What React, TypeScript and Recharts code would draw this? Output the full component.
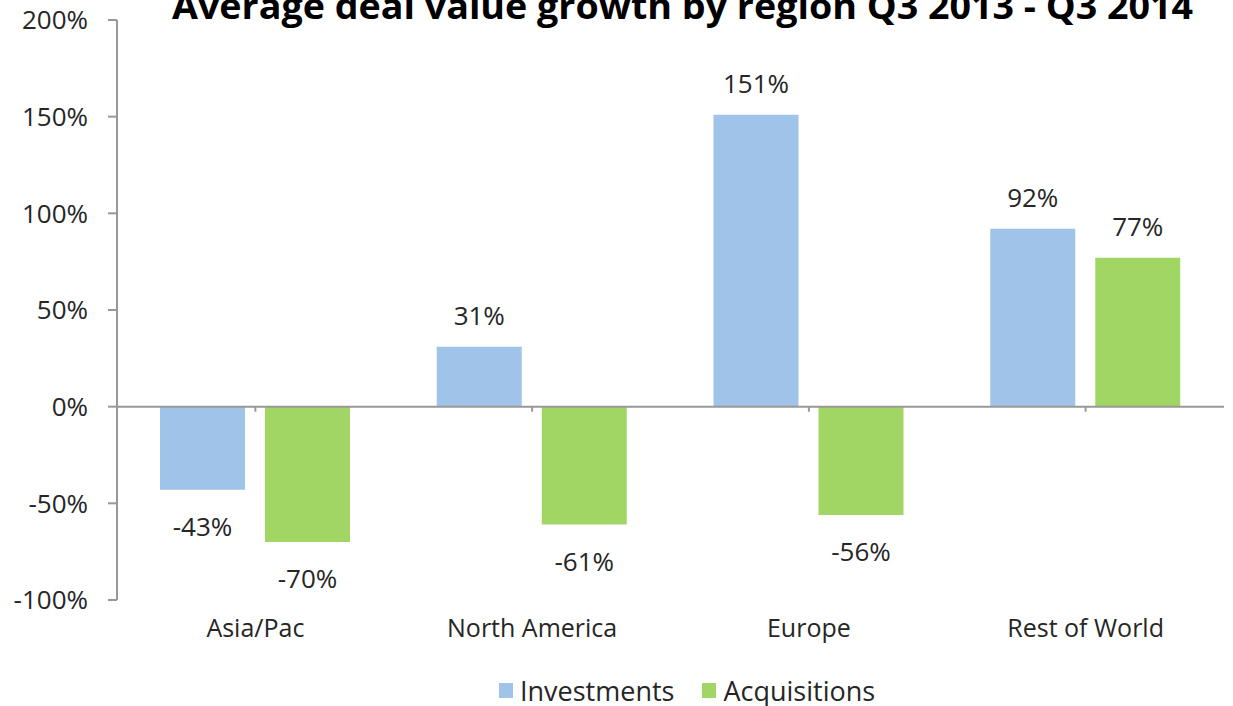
import React from "react";
import {
  BarChart,
  Bar,
  XAxis,
  YAxis,
  ReferenceLine,
  LabelList,
} from "recharts";

const regions = ["Asia/Pac", "North America", "Europe", "Rest of World"];
const investments = [-43, 31, 151, 92];
const acquisitions = [-70, -61, -56, 77];
const yTicks = [-100, -50, 0, 50, 100, 150, 200];

const seriesNames = ["Investments", "Acquisitions"];
const seriesColors = ["#9fc3e9", "#a2d664"];

const TITLE = "Average deal value growth by region Q3 2013 - Q3 2014";
const FONT = "'Open Sans', 'Noto Sans', sans-serif";
const TEXT = "#262626";
const AXIS = "#989898";

const data = regions.map((r, i) => ({
  region: r,
  inv: investments[i],
  acq: acquisitions[i],
}));

// data labels sit outside the bar end, above for gains, below for losses
function ValueLabel(props: any) {
  const { x, y, width, height, value } = props;
  const top = Math.min(y, y + height);
  const bottom = Math.max(y, y + height);
  const cy = value >= 0 ? top - 31 : bottom + 37;
  return (
    <text
      x={x + width / 2}
      y={cy}
      dy="0.35em"
      textAnchor="middle"
      fill={TEXT}
      fontSize={26}
      fontFamily={FONT}
    >
      {value}%
    </text>
  );
}

function CategoryTick(props: any) {
  const { x, y, payload } = props;
  return (
    <text
      x={x}
      y={y + 28}
      dy="0.35em"
      textAnchor="middle"
      fill={TEXT}
      fontSize={25}
      fontFamily={FONT}
    >
      {payload.value}
    </text>
  );
}

export default function App() {
  return (
    <div
      style={{
        position: "absolute",
        left: 0,
        top: 0,
        width: 1233,
        height: 706,
        background: "#fff",
        overflow: "hidden",
        fontFamily: FONT,
      }}
    >
      <BarChart
        width={1233}
        height={706}
        data={data}
        margin={{ top: 20, right: 9, bottom: 76, left: 0 }}
        barCategoryGap={43}
        barGap={20}
      >
        <YAxis
          width={117}
          domain={[-100, 200]}
          ticks={yTicks}
          interval={0}
          tickFormatter={(v) => `${v}%`}
          tick={{ fill: TEXT, fontSize: 26, fontFamily: FONT }}
          axisLine={{ stroke: AXIS, strokeWidth: 2 }}
          tickLine={{ stroke: AXIS, strokeWidth: 2 }}
          tickSize={9}
          tickMargin={20}
        />
        <XAxis
          dataKey="region"
          height={30}
          axisLine={false}
          tickLine={false}
          tickSize={0}
          tickMargin={0}
          interval={0}
          tick={<CategoryTick />}
        />
        <Bar dataKey="inv" fill={seriesColors[0]} isAnimationActive={false}>
          <LabelList dataKey="inv" content={<ValueLabel />} />
        </Bar>
        <Bar dataKey="acq" fill={seriesColors[1]} isAnimationActive={false}>
          <LabelList dataKey="acq" content={<ValueLabel />} />
        </Bar>
        <ReferenceLine y={0} stroke={AXIS} strokeWidth={2} />
        {regions.map((r) => (
          <ReferenceLine
            key={r}
            segment={[
              { x: r, y: 0 },
              { x: r, y: -2.6 },
            ]}
            stroke={AXIS}
            strokeWidth={2}
          />
        ))}
      </BarChart>

      {/* title is clipped by the top edge in the source image */}
      <svg
        width={1233}
        height={40}
        style={{ position: "absolute", left: 0, top: 0 }}
      >
        <text
          x={172}
          y={19}
          fontSize={35}
          fontWeight={700}
          fontFamily={FONT}
          fill="#000"
          textLength={1021}
          lengthAdjust="spacingAndGlyphs"
        >
          {TITLE}
        </text>
      </svg>

      <div
        style={{
          position: "absolute",
          left: 499,
          top: 677,
          display: "flex",
          alignItems: "center",
          fontSize: 27,
          lineHeight: "27px",
          color: TEXT,
          whiteSpace: "nowrap",
        }}
      >
        {seriesNames.map((n, i) => (
          <div
            key={n}
            style={{
              display: "flex",
              alignItems: "center",
              marginRight: i === 0 ? 28 : 0,
            }}
          >
            <span
              style={{
                width: 14,
                height: 15,
                background: seriesColors[i],
                marginRight: 7,
                display: "inline-block",
              }}
            />
            <span>{n}</span>
          </div>
        ))}
      </div>
    </div>
  );
}
